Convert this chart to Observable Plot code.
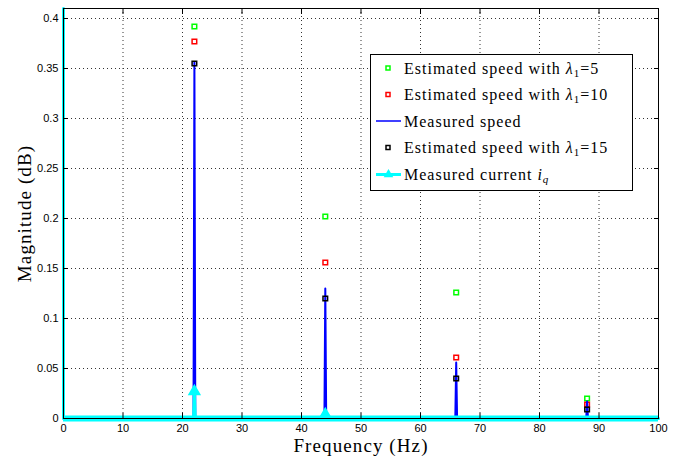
<!DOCTYPE html>
<html><head><meta charset="utf-8">
<script src="https://cdn.jsdelivr.net/npm/d3@7"></script>
<script src="https://cdn.jsdelivr.net/npm/@observablehq/plot@0.6"></script>
<style>body{margin:0;background:#fff}</style>
</head><body><div id="chart"></div>
<script>
// ---- data ----
const peakFreqs = [22, 44, 66, 88];
const est5  = [0.392, 0.202, 0.126, 0.020];
const est10 = [0.377, 0.156, 0.061, 0.014];
const est15 = [0.355, 0.120, 0.040, 0.009];
const speedFreq = [0, 0, 0.15, 21.85, 22, 22.15, 43.85, 44, 44.15, 65.85, 66, 66.15, 87.85, 88, 88.15, 100];
const speedMag  = [0.41, 0, 0, 0, 0.356, 0, 0, 0.130, 0, 0, 0.056, 0, 0, 0.017, 0, 0];
const currentFreq = [0, 0, 0.15, 21.85, 22, 22.15, 43.85, 44, 44.15, 100];
const currentMag  = [0.41, 0, 0, 0, 0.027, 0, 0, 0.004, 0, 0];
const currentMarkFreq = [22, 44];
const currentMarkMag  = [0.027, 0.004];
const xTicks = [0, 10, 20, 30, 40, 50, 60, 70, 80, 90, 100];
const yTicks = [0, 0.05, 0.1, 0.15, 0.2, 0.25, 0.3, 0.35, 0.4];

const pts = (xs, ys) => xs.map((x, i) => ({x, y: ys[i]}));
const sansFont = "Liberation Sans, Arial, sans-serif";
const serifFont = "Liberation Serif, Times New Roman, serif";

const chart = Plot.plot({
  width: 679, height: 457,
  marginLeft: 63, marginRight: 21, marginTop: 8, marginBottom: 39,
  style: {fontFamily: sansFont, fontSize: "11px", color: "#000", background: "#fff"},
  x: {domain: [0, 100]},
  y: {domain: [0, 0.41]},
  marks: [
    Plot.gridX(xTicks, {stroke: "#333", strokeOpacity: 1, strokeDasharray: "1,3"}),
    Plot.gridY(yTicks, {stroke: "#333", strokeOpacity: 1, strokeDasharray: "1,3"}),
    Plot.dot(pts(peakFreqs, est5), {x: "x", y: "y", symbol: "square", r: 2.6, stroke: "#00ff00", strokeWidth: 1.5, fill: "none"}),
    Plot.dot(pts(peakFreqs, est10), {x: "x", y: "y", symbol: "square", r: 2.6, stroke: "#ff0000", strokeWidth: 1.5, fill: "none"}),
    Plot.line(pts(speedFreq, speedMag), {x: "x", y: "y", stroke: "#0000ff", strokeWidth: 2}),
    Plot.dot(pts(peakFreqs, est15), {x: "x", y: "y", symbol: "square", r: 2.6, stroke: "#000", strokeWidth: 1.5, fill: "none"}),
    Plot.ruleY([0], {x1: 0, x2: 100, stroke: "#00ffff", strokeWidth: 6}),
    Plot.line(pts(currentFreq, currentMag), {x: "x", y: "y", stroke: "#00ffff", strokeWidth: 3}),
    Plot.dot(pts(currentMarkFreq, currentMarkMag), {x: "x", y: "y", symbol: "triangle", r: 4, fill: "#00ffff", stroke: "#00ffff"}),
    Plot.axisX(xTicks, {anchor: "bottom", tickSize: 0, tickPadding: 6, label: null, fontFamily: sansFont}),
    Plot.axisY(yTicks, {anchor: "left", tickSize: 0, tickPadding: 5, label: null, fontFamily: sansFont, tickFormat: d => String(d)}),
    Plot.axisX(xTicks, {anchor: "bottom", tickSize: -5, tickFormat: () => "", label: null}),
    Plot.axisX(xTicks, {anchor: "top", tickSize: -5, tickFormat: () => "", label: null}),
    Plot.axisY(yTicks, {anchor: "left", tickSize: -5, tickFormat: () => "", label: null}),
    Plot.axisY(yTicks, {anchor: "right", tickSize: -5, tickFormat: () => "", label: null}),
    Plot.frame({stroke: "#000", strokeWidth: 1}),
    Plot.text(["Frequency (Hz)"], {frameAnchor: "bottom", lineAnchor: "middle", textAnchor: "middle", dy: 27, fontSize: 19, fontFamily: serifFont, fill: "#000", style: "letter-spacing:1px"}),
    Plot.text(["Magnitude (dB)"], {frameAnchor: "left", lineAnchor: "middle", textAnchor: "middle", dx: -39, rotate: -90, fontSize: 19, fontFamily: serifFont, fill: "#000"})
  ]
});
document.getElementById("chart").appendChild(chart);
d3.select(chart).selectAll("text").filter(function() { return /Frequency|Magnitude/.test(this.textContent); })
  .attr("letter-spacing", "1.1px");

// ---- legend ----
const svg = d3.select(chart);
const lg = svg.append("g").attr("font-family", serifFont).attr("font-size", 16).attr("text-anchor", "start").attr("letter-spacing", "1px");
lg.append("rect").attr("x", 370.5).attr("y", 54.5).attr("width", 262).attr("height", 136)
  .attr("fill", "#fff").attr("stroke", "#000").attr("stroke-width", 1);
const rowsY = [68, 94.5, 121, 147.5, 174.5];
const sq = (y, color) => lg.append("rect").attr("x", 386).attr("y", y - 2).attr("width", 4).attr("height", 4)
  .attr("fill", "none").attr("stroke", color).attr("stroke-width", 1.5);
sq(rowsY[0], "#00ff00");
sq(rowsY[1], "#ff0000");
lg.append("line").attr("x1", 376).attr("x2", 401).attr("y1", rowsY[2]).attr("y2", rowsY[2]).attr("stroke", "#0000ff").attr("stroke-width", 1.5);
sq(rowsY[3], "#000");
lg.append("line").attr("x1", 376).attr("x2", 401).attr("y1", rowsY[4]).attr("y2", rowsY[4]).attr("stroke", "#00ffff").attr("stroke-width", 3);
lg.append("path").attr("d", d3.symbol(d3.symbolTriangle, 40)()).attr("transform", `translate(388.5,${rowsY[4]})`).attr("fill", "#00ffff");

function addLabel(i, parts) {
  const t = lg.append("text").attr("x", 404).attr("y", rowsY[i]).attr("dy", "0.35em").attr("fill", "#000").attr("text-anchor", "start");
  parts.forEach(p => {
    const s = t.append("tspan").text(p.t);
    if (p.sub) s.attr("baseline-shift", "-25%").attr("font-size", 11);
    if (p.it) s.attr("font-style", "italic");
  });
}
addLabel(0, [{t: "Estimated speed with "}, {t: "λ", it: true}, {t: "1", sub: true}, {t: "=5"}]);
addLabel(1, [{t: "Estimated speed with "}, {t: "λ", it: true}, {t: "1", sub: true}, {t: "=10"}]);
addLabel(2, [{t: "Measured speed"}]);
addLabel(3, [{t: "Estimated speed with "}, {t: "λ", it: true}, {t: "1", sub: true}, {t: "=15"}]);
addLabel(4, [{t: "Measured current "}, {t: "i", it: true}, {t: "q", it: true, sub: true}]);
</script>
</body></html>
